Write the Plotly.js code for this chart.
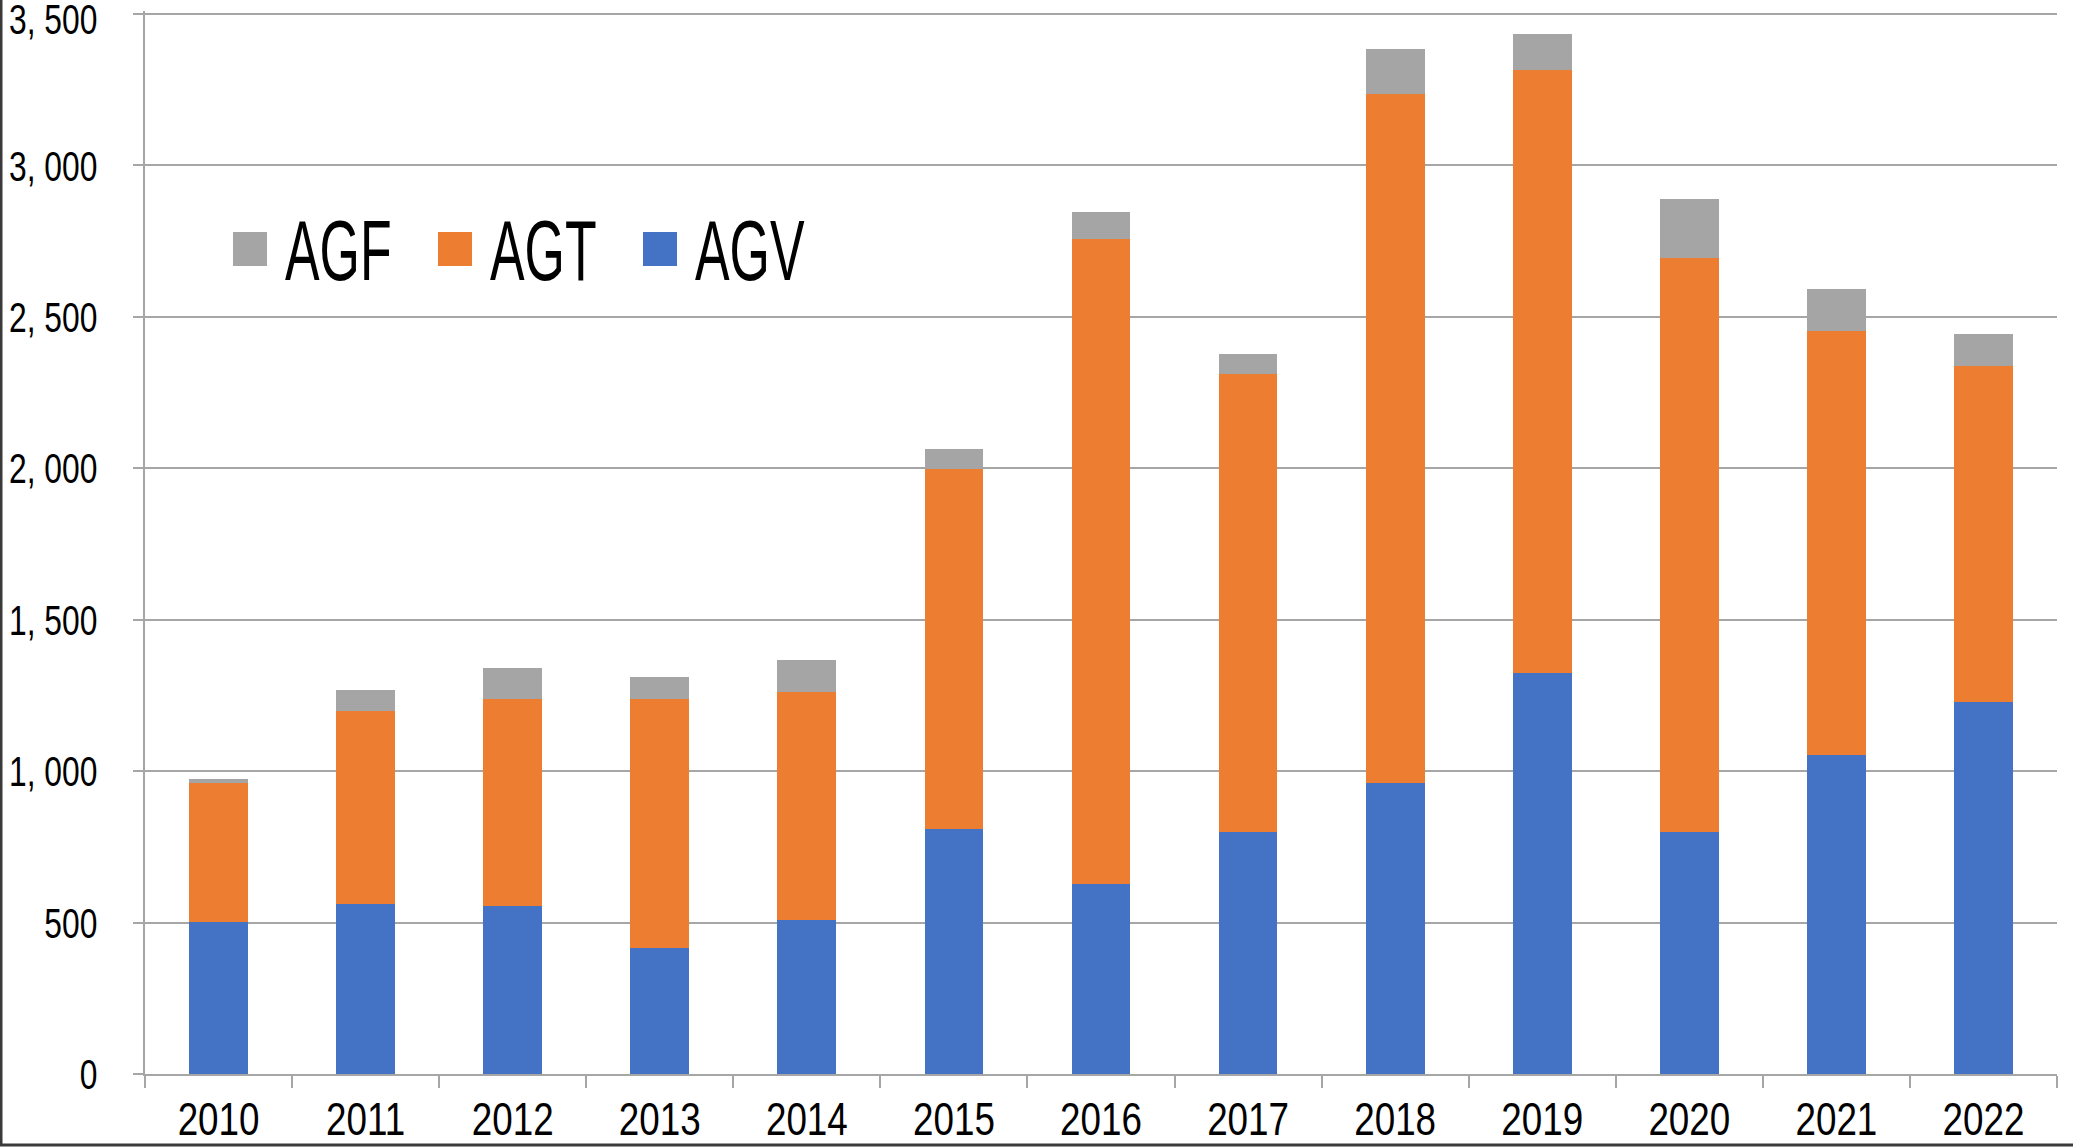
<!DOCTYPE html>
<html>
<head>
<meta charset="utf-8">
<script src="https://cdn.plot.ly/plotly-3.0.1.min.js"></script>
<style>
html,body{margin:0;padding:0;background:#fff;}
#chart{width:2073px;height:1147px;}
</style>
</head>
<body>
<div id="chart"></div>
<script>
// ---- data ----
const years = ["2010","2011","2012","2013","2014","2015","2016","2017","2018","2019","2020","2021","2022"];
const AGV = [502, 562, 556, 415, 507, 808, 629, 800, 961, 1324, 800, 1053, 1228];
const AGT = [458, 637, 681, 822, 756, 1189, 2129, 1512, 2276, 1992, 1896, 1399, 1110];
const AGF = [15, 70, 105, 74, 105, 66, 87, 65, 146, 118, 193, 140, 105];
const seriesNames = ["AGF", "AGT", "AGV"];
const seriesColors = {AGF: "#a5a5a5", AGT: "#ed7d31", AGV: "#4472c4"};
const yTickVals = [0, 500, 1000, 1500, 2000, 2500, 3000, 3500];
const yTickText = ["0", "500", "1, 000", "1, 500", "2, 000", "2, 500", "3, 000", "3, 500"];

const FONT = '"Liberation Sans", Arial, sans-serif';
const GRID = "#a6a6a6";

const W = 2073, H = 1147;
const L = 145, R = 2057, T = 11, B = 1074;
const px = x => (x - L) / (R - L);
const py = y => (B - y) / (B - T);

const mk = (name, vals) => ({
  type: "bar", name: name, x: years, y: vals,
  marker: {color: seriesColors[name], line: {width: 0}},
  hoverinfo: "x+y+name", showlegend: false
});

const traces = [mk("AGV", AGV), mk("AGT", AGT), mk("AGF", AGF)];

// legend drawn manually (large square keys)
const legendBoxX = [233, 438, 643];
const shapes = [];
const annotations = [];
seriesNames.forEach((n, i) => {
  const x0 = legendBoxX[i];
  shapes.push({type: "rect", xref: "paper", yref: "paper",
    x0: px(x0), x1: px(x0 + 34), y0: py(266), y1: py(232),
    fillcolor: seriesColors[n], line: {width: 0}, layer: "above"});
  annotations.push({xref: "paper", yref: "paper", x: px(x0 + 50), y: py(250),
    xanchor: "left", yanchor: "middle", showarrow: false, text: n,
    font: {family: FONT, size: 85, color: "#000"}});
});
// outer frame (left and bottom edges)
shapes.push({type: "line", xref: "paper", yref: "paper", x0: px(1), x1: px(1), y0: py(0), y1: py(1146),
  line: {color: "#3a3a3a", width: 3}});
shapes.push({type: "line", xref: "paper", yref: "paper", x0: px(0), x1: px(W), y0: py(1145), y1: py(1145),
  line: {color: "#3a3a3a", width: 3}});

const layout = {
  width: W, height: H,
  margin: {l: L, r: W - R, t: T, b: H - B, pad: 0},
  paper_bgcolor: "#fff", plot_bgcolor: "#fff",
  barmode: "stack", bargap: 0.6,
  showlegend: false,
  font: {family: FONT, color: "#000"},
  xaxis: {
    type: "category", showline: true, linecolor: GRID, linewidth: 2,
    ticks: "outside", tickson: "boundaries", ticklen: 12, tickwidth: 2, tickcolor: GRID,
    showgrid: false, tickfont: {family: FONT, size: 46, color: "#000"},
    ticklabelstandoff: 4, fixedrange: true
  },
  yaxis: {
    range: [0, 3510], tickvals: yTickVals, ticktext: yTickText,
    showline: true, linecolor: GRID, linewidth: 2,
    ticks: "outside", ticklen: 10, tickwidth: 2, tickcolor: GRID,
    showgrid: true, gridcolor: GRID, gridwidth: 2, zeroline: false,
    tickfont: {family: FONT, size: 43, color: "#000"},
    ticklabelstandoff: 27, ticklabeloverflow: "allow", fixedrange: true
  },
  shapes: shapes,
  annotations: annotations
};

// horizontally condense text to mimic the narrow typeface of the original
function squeeze(sel, s, mode) {
  document.querySelectorAll(sel).forEach(t => {
    const b = t.getBBox();
    const cx = mode === "left" ? b.x : mode === "right" ? b.x + b.width : b.x + b.width / 2;
    const prev = t.getAttribute("transform") || "";
    t.setAttribute("transform", prev + " translate(" + cx + ",0) scale(" + s + ",1) translate(" + (-cx) + ",0)");
  });
}

Plotly.newPlot("chart", traces, layout, {displayModeBar: false, responsive: false}).then(() => {
  squeeze("#chart .xtick text", 0.80, "center");
  squeeze("#chart .ytick text", 0.74, "right");
  squeeze("#chart .annotation-text", 0.61, "left");
  // nudge the topmost y label so its glyphs stay inside the canvas, as in the original
  document.querySelectorAll("#chart .ytick text").forEach(t => {
    if (t.textContent === yTickText[yTickText.length - 1]) {
      t.setAttribute("transform", (t.getAttribute("transform") || "") + " translate(0,5)");
    }
  });
});
</script>
</body>
</html>
